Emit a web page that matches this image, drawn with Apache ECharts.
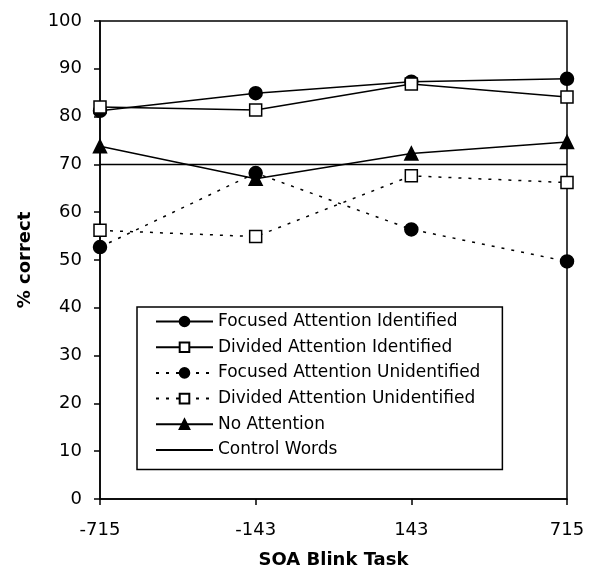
<!DOCTYPE html>
<html><head><meta charset="utf-8">
<script src="https://cdn.jsdelivr.net/npm/echarts@6/dist/echarts.min.js"></script>
<style>html,body{margin:0;padding:0;background:#fff}#c{width:596px;height:575px}</style>
</head><body><div id="c"></div>
<script>
const categories = ['-715', '-143', '143', '715'];
const focusedIdentified = [81.2, 84.9, 87.3, 87.9];
const dividedIdentified = [82.0, 81.4, 86.8, 84.1];
const focusedUnidentified = [52.7, 68.2, 56.4, 49.7];
const dividedUnidentified = [56.2, 54.9, 67.6, 66.2];
const noAttention = [73.8, 67.0, 72.3, 74.7];
const controlWords = [70, 70, 70, 70];
const yTicks = [0, 10, 20, 30, 40, 50, 60, 70, 80, 90, 100];

const F = 'DejaVu Sans, sans-serif';
function ser(name, data, symbol, fill, dashed, size) {
  return {
    name, type: 'line', data, symbol, symbolSize: size,
    showSymbol: symbol !== 'none',
    lineStyle: { color: '#000', width: 1.5, type: dashed ? [3, 7] : 'solid' },
    itemStyle: { color: fill, borderColor: '#000', borderWidth: 1.5 },
    emphasis: { disabled: true }, animation: false, z: 3
  };
}
const chart = echarts.init(document.getElementById('c'));
chart.setOption({
  animation: false,
  grid: { left: 100, right: 29, top: 21, bottom: 76, show: true, borderColor: '#000', borderWidth: 1.5 },
  xAxis: {
    type: 'category', data: categories, boundaryGap: false,
    name: 'SOA Blink Task', nameLocation: 'middle', nameGap: 52,
    nameTextStyle: { fontFamily: F, fontSize: 18, fontWeight: 'bold', color: '#000' },
    axisLine: { lineStyle: { color: '#000', width: 1.5 } },
    axisTick: { show: true, alignWithLabel: true, length: 6, lineStyle: { color: '#000', width: 1.5 } },
    axisLabel: { fontFamily: F, fontSize: 18, color: '#000', margin: 22 },
    splitLine: { show: false }
  },
  yAxis: {
    type: 'value', min: 0, max: 100, interval: 10,
    name: '% correct', nameLocation: 'middle', nameGap: 66, nameRotate: 90,
    nameTextStyle: { fontFamily: F, fontSize: 18, fontWeight: 'bold', color: '#000' },
    axisLine: { show: true, lineStyle: { color: '#000', width: 1.5 } },
    axisTick: { show: true, length: 6, lineStyle: { color: '#000', width: 1.5 } },
    axisLabel: { fontFamily: F, fontSize: 18, color: '#000', margin: 18,
      formatter: v => yTicks.includes(v) ? String(v) : '' },
    splitLine: { show: false }
  },
  legend: {
    orient: 'vertical', left: 137, top: 307,
    backgroundColor: '#fff', borderColor: '#000', borderWidth: 1.5,
    padding: [6, 22, 11, 18], itemWidth: 57, itemHeight: 12, itemGap: 8.7,
    textStyle: { fontFamily: F, fontSize: 17, color: '#000' },
    data: ['Focused Attention Identified', 'Divided Attention Identified',
      'Focused Attention Unidentified', 'Divided Attention Unidentified',
      'No Attention', { name: 'Control Words', itemStyle: { opacity: 0 } }]
  },
  series: [
    ser('Focused Attention Identified', focusedIdentified, 'circle', '#000', false, 13),
    ser('Divided Attention Identified', dividedIdentified, 'rect', '#fff', false, 12),
    ser('Focused Attention Unidentified', focusedUnidentified, 'circle', '#000', true, 13),
    ser('Divided Attention Unidentified', dividedUnidentified, 'rect', '#fff', true, 12),
    ser('No Attention', noAttention, 'triangle', '#000', false, 13),
    ser('Control Words', controlWords, 'none', '#000', false, 0)
  ]
});
</script></body></html>
